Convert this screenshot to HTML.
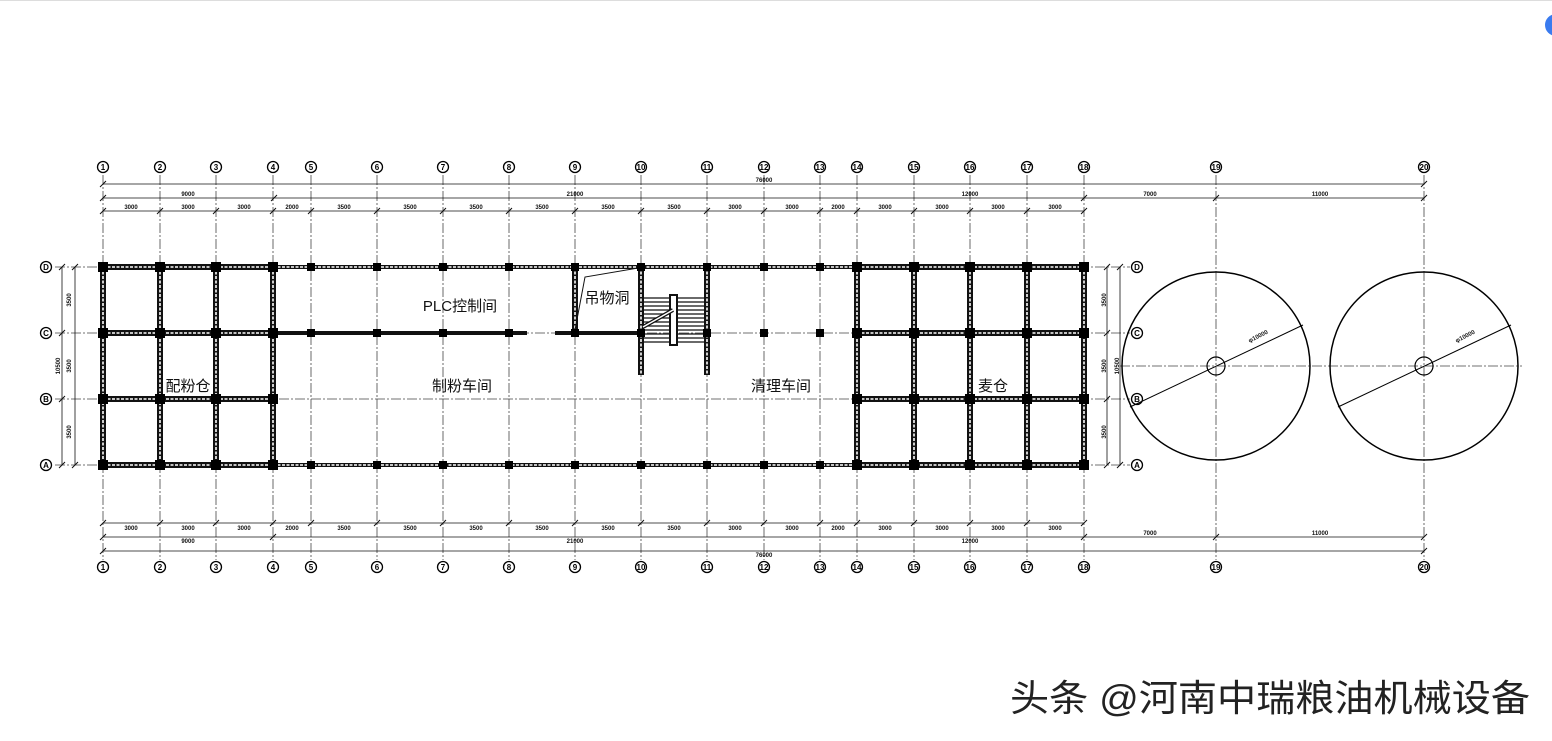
<!DOCTYPE html>
<html><head><meta charset="utf-8"><style>
body{margin:0;background:#fff;}
svg{display:block}
.g{stroke:#444;stroke-width:.8;stroke-dasharray:10 2 2 2;fill:none}
.d{stroke:#111;stroke-width:.8;fill:none}
.t{font:bold 6px "Liberation Sans",sans-serif;fill:#111;text-anchor:middle}
.b{fill:#fff;stroke:#000;stroke-width:1.3}
.bt{font:bold 8px "Liberation Sans",sans-serif;text-anchor:middle;fill:#000}
.hw{stroke:#111;stroke-width:6;fill:none}
.hd{stroke:#fff;stroke-width:1.6;stroke-dasharray:3 1.5;fill:none}
.lab{font:15px "Liberation Sans","Noto Sans CJK SC",sans-serif;fill:#111;text-anchor:middle}
</style></head><body>
<svg width="1552" height="741" viewBox="0 0 1552 741" xmlns="http://www.w3.org/2000/svg">
<line x1="0" y1="0.5" x2="1552" y2="0.5" stroke="#ddd"/>
<circle cx="1556" cy="25" r="11" fill="#3a7bef"/>
<g class="g">
<line x1="103" y1="175" x2="103" y2="560"/><line x1="160" y1="175" x2="160" y2="560"/><line x1="216" y1="175" x2="216" y2="560"/><line x1="273" y1="175" x2="273" y2="560"/><line x1="311" y1="175" x2="311" y2="560"/><line x1="377" y1="175" x2="377" y2="560"/><line x1="443" y1="175" x2="443" y2="560"/><line x1="509" y1="175" x2="509" y2="560"/><line x1="575" y1="175" x2="575" y2="560"/><line x1="641" y1="175" x2="641" y2="560"/><line x1="707" y1="175" x2="707" y2="560"/><line x1="764" y1="175" x2="764" y2="560"/><line x1="820" y1="175" x2="820" y2="560"/><line x1="857" y1="175" x2="857" y2="560"/><line x1="914" y1="175" x2="914" y2="560"/><line x1="970" y1="175" x2="970" y2="560"/><line x1="1027" y1="175" x2="1027" y2="560"/><line x1="1084" y1="175" x2="1084" y2="560"/><line x1="1216" y1="175" x2="1216" y2="560"/><line x1="1424" y1="175" x2="1424" y2="560"/>
<line x1="55" y1="267" x2="1130" y2="267"/><line x1="55" y1="333" x2="1130" y2="333"/><line x1="55" y1="399" x2="1130" y2="399"/><line x1="55" y1="465" x2="1130" y2="465"/>
<line x1="1120" y1="366" x2="1522" y2="366"/>
</g>
<g class="d">
<line x1="103" y1="184" x2="1424" y2="184"/><line x1="103" y1="198" x2="1424" y2="198"/><line x1="103" y1="211" x2="1084" y2="211"/>
<line x1="103" y1="523" x2="1084" y2="523"/><line x1="103" y1="537" x2="1424" y2="537"/><line x1="103" y1="551" x2="1424" y2="551"/>
<line x1="62" y1="267" x2="62" y2="465"/><line x1="75" y1="267" x2="75" y2="465"/>
<line x1="1107" y1="267" x2="1107" y2="465"/><line x1="1120" y1="267" x2="1120" y2="465"/>
</g>
<g stroke="#111" stroke-width="1">
<path d="M100 187l6-6M100 201l6-6M271 201l6-6M1081 201l6-6M1213 201l6-6M1421 201l6-6M1421 187l6-6M100 214l6-6M157 214l6-6M213 214l6-6M270 214l6-6M308 214l6-6M374 214l6-6M440 214l6-6M506 214l6-6M572 214l6-6M638 214l6-6M704 214l6-6M761 214l6-6M817 214l6-6M854 214l6-6M911 214l6-6M967 214l6-6M1024 214l6-6M1081 214l6-6"/>
<path d="M100 526l6-6M157 526l6-6M213 526l6-6M270 526l6-6M308 526l6-6M374 526l6-6M440 526l6-6M506 526l6-6M572 526l6-6M638 526l6-6M704 526l6-6M761 526l6-6M817 526l6-6M854 526l6-6M911 526l6-6M967 526l6-6M1024 526l6-6M1081 526l6-6M100 540l6-6M270 540l6-6M1081 540l6-6M1213 540l6-6M1421 540l6-6M100 554l6-6M1421 554l6-6"/>
<path d="M59 270l6-6M59 336l6-6M59 402l6-6M59 468l6-6M72 270l6-6M72 468l6-6M1104 270l6-6M1104 336l6-6M1104 402l6-6M1104 468l6-6M1117 270l6-6M1117 468l6-6"/>
</g>
<g class="t">
<text x="764" y="182">76000</text><text x="188" y="196">9000</text><text x="575" y="196">21000</text><text x="970" y="196">12000</text><text x="1150" y="196">7000</text><text x="1320" y="196">11000</text>
<text x="131" y="209">3000</text><text x="188" y="209">3000</text><text x="244" y="209">3000</text><text x="292" y="209">2000</text><text x="344" y="209">3500</text><text x="410" y="209">3500</text><text x="476" y="209">3500</text><text x="542" y="209">3500</text><text x="608" y="209">3500</text><text x="674" y="209">3500</text><text x="735" y="209">3000</text><text x="792" y="209">3000</text><text x="838" y="209">2000</text><text x="885" y="209">3000</text><text x="942" y="209">3000</text><text x="998" y="209">3000</text><text x="1055" y="209">3000</text>
<text x="131" y="530">3000</text><text x="188" y="530">3000</text><text x="244" y="530">3000</text><text x="292" y="530">2000</text><text x="344" y="530">3500</text><text x="410" y="530">3500</text><text x="476" y="530">3500</text><text x="542" y="530">3500</text><text x="608" y="530">3500</text><text x="674" y="530">3500</text><text x="735" y="530">3000</text><text x="792" y="530">3000</text><text x="838" y="530">2000</text><text x="885" y="530">3000</text><text x="942" y="530">3000</text><text x="998" y="530">3000</text><text x="1055" y="530">3000</text>
<text x="188" y="543">9000</text><text x="575" y="543">21000</text><text x="970" y="543">12000</text><text x="1150" y="535">7000</text><text x="1320" y="535">11000</text><text x="764" y="557">76000</text>
<text transform="translate(71 300) rotate(-90)">3500</text><text transform="translate(71 366) rotate(-90)">3500</text><text transform="translate(71 432) rotate(-90)">3500</text><text transform="translate(60 366) rotate(-90)">10500</text>
<text transform="translate(1106 300) rotate(-90)">3500</text><text transform="translate(1106 366) rotate(-90)">3500</text><text transform="translate(1106 432) rotate(-90)">3500</text><text transform="translate(1119 366) rotate(-90)">10500</text>
<text transform="translate(1259 338) rotate(-27)">φ10000</text><text transform="translate(1466 338) rotate(-27)">φ10000</text>
</g>
<g>
<g class="b">
<circle cx="103" cy="167" r="5.5"/><circle cx="160" cy="167" r="5.5"/><circle cx="216" cy="167" r="5.5"/><circle cx="273" cy="167" r="5.5"/><circle cx="311" cy="167" r="5.5"/><circle cx="377" cy="167" r="5.5"/><circle cx="443" cy="167" r="5.5"/><circle cx="509" cy="167" r="5.5"/><circle cx="575" cy="167" r="5.5"/><circle cx="641" cy="167" r="5.5"/><circle cx="707" cy="167" r="5.5"/><circle cx="764" cy="167" r="5.5"/><circle cx="820" cy="167" r="5.5"/><circle cx="857" cy="167" r="5.5"/><circle cx="914" cy="167" r="5.5"/><circle cx="970" cy="167" r="5.5"/><circle cx="1027" cy="167" r="5.5"/><circle cx="1084" cy="167" r="5.5"/><circle cx="1216" cy="167" r="5.5"/><circle cx="1424" cy="167" r="5.5"/>
<circle cx="103" cy="567" r="5.5"/><circle cx="160" cy="567" r="5.5"/><circle cx="216" cy="567" r="5.5"/><circle cx="273" cy="567" r="5.5"/><circle cx="311" cy="567" r="5.5"/><circle cx="377" cy="567" r="5.5"/><circle cx="443" cy="567" r="5.5"/><circle cx="509" cy="567" r="5.5"/><circle cx="575" cy="567" r="5.5"/><circle cx="641" cy="567" r="5.5"/><circle cx="707" cy="567" r="5.5"/><circle cx="764" cy="567" r="5.5"/><circle cx="820" cy="567" r="5.5"/><circle cx="857" cy="567" r="5.5"/><circle cx="914" cy="567" r="5.5"/><circle cx="970" cy="567" r="5.5"/><circle cx="1027" cy="567" r="5.5"/><circle cx="1084" cy="567" r="5.5"/><circle cx="1216" cy="567" r="5.5"/><circle cx="1424" cy="567" r="5.5"/>
<circle cx="46" cy="267" r="5.5"/><circle cx="46" cy="333" r="5.5"/><circle cx="46" cy="399" r="5.5"/><circle cx="46" cy="465" r="5.5"/>
<circle cx="1137" cy="267" r="5.5"/><circle cx="1137" cy="333" r="5.5"/><circle cx="1137" cy="399" r="5.5"/><circle cx="1137" cy="465" r="5.5"/>
</g>
<g class="bt">
<text x="103" y="170">1</text><text x="160" y="170">2</text><text x="216" y="170">3</text><text x="273" y="170">4</text><text x="311" y="170">5</text><text x="377" y="170">6</text><text x="443" y="170">7</text><text x="509" y="170">8</text><text x="575" y="170">9</text><text x="641" y="170">10</text><text x="707" y="170">11</text><text x="764" y="170">12</text><text x="820" y="170">13</text><text x="857" y="170">14</text><text x="914" y="170">15</text><text x="970" y="170">16</text><text x="1027" y="170">17</text><text x="1084" y="170">18</text><text x="1216" y="170">19</text><text x="1424" y="170">20</text>
<text x="103" y="570">1</text><text x="160" y="570">2</text><text x="216" y="570">3</text><text x="273" y="570">4</text><text x="311" y="570">5</text><text x="377" y="570">6</text><text x="443" y="570">7</text><text x="509" y="570">8</text><text x="575" y="570">9</text><text x="641" y="570">10</text><text x="707" y="570">11</text><text x="764" y="570">12</text><text x="820" y="570">13</text><text x="857" y="570">14</text><text x="914" y="570">15</text><text x="970" y="570">16</text><text x="1027" y="570">17</text><text x="1084" y="570">18</text><text x="1216" y="570">19</text><text x="1424" y="570">20</text>
<text x="46" y="270">D</text><text x="46" y="336">C</text><text x="46" y="402">B</text><text x="46" y="468">A</text>
<text x="1137" y="270">D</text><text x="1137" y="336">C</text><text x="1137" y="402">B</text><text x="1137" y="468">A</text>
</g>
</g>
<g stroke="#111" stroke-width="4" fill="none">
<line x1="273" y1="267" x2="857" y2="267"/><line x1="273" y1="465" x2="857" y2="465"/>
<line x1="273" y1="333" x2="527" y2="333"/><line x1="555" y1="333" x2="641" y2="333"/>
</g>
<g class="hd" stroke-dasharray="6 4"><line x1="273" y1="267" x2="857" y2="267"/><line x1="273" y1="465" x2="857" y2="465"/></g>
<path class="hw" d="M103 267H273M103 333H273M103 399H273M103 465H273M103 267V465M160 267V465M216 267V465M273 267V465M857 267H1084M857 333H1084M857 399H1084M857 465H1084M857 267V465M914 267V465M970 267V465M1027 267V465M1084 267V465M575 267V333M641 267V375M707 267V375"/>
<path class="hd" d="M103 267H273M103 333H273M103 399H273M103 465H273M103 267V465M160 267V465M216 267V465M273 267V465M857 267H1084M857 333H1084M857 399H1084M857 465H1084M857 267V465M914 267V465M970 267V465M1027 267V465M1084 267V465M575 267V333M641 267V375M707 267V375"/>
<g stroke="#111" stroke-width="1.2">
<path d="M643 298H705M643 302H705M643 306H705M643 310H705M643 314H705M643 318H705M643 322H705M643 326H705M643 330H705M643 334H705M643 338H705M643 342H705"/>
</g>
<rect x="670" y="295" width="7" height="50" fill="#fff" stroke="#111" stroke-width="2"/>
<path d="M643 327L673 310" stroke="#111" stroke-width="4"/><path d="M643 327L673 310" stroke="#fff" stroke-width="1.5"/>
<path d="M575 330L585 277L638 268" stroke="#111" stroke-width="1" fill="none"/>
<g fill="#000">
<path d="M98 262h10v10h-10zM155 262h10v10h-10zM211 262h10v10h-10zM268 262h10v10h-10zM307 263h8v8h-8zM373 263h8v8h-8zM439 263h8v8h-8zM505 263h8v8h-8zM571 263h8v8h-8zM637 263h8v8h-8zM703 263h8v8h-8zM760 263h8v8h-8zM816 263h8v8h-8zM852 262h10v10h-10zM909 262h10v10h-10zM965 262h10v10h-10zM1022 262h10v10h-10zM1079 262h10v10h-10z"/>
<path d="M98 460h10v10h-10zM155 460h10v10h-10zM211 460h10v10h-10zM268 460h10v10h-10zM307 461h8v8h-8zM373 461h8v8h-8zM439 461h8v8h-8zM505 461h8v8h-8zM571 461h8v8h-8zM637 461h8v8h-8zM703 461h8v8h-8zM760 461h8v8h-8zM816 461h8v8h-8zM852 460h10v10h-10zM909 460h10v10h-10zM965 460h10v10h-10zM1022 460h10v10h-10zM1079 460h10v10h-10z"/>
<path d="M98 328h10v10h-10zM155 328h10v10h-10zM211 328h10v10h-10zM268 328h10v10h-10zM307 329h8v8h-8zM373 329h8v8h-8zM439 329h8v8h-8zM505 329h8v8h-8zM571 329h8v8h-8zM637 329h8v8h-8zM703 329h8v8h-8zM760 329h8v8h-8zM816 329h8v8h-8zM852 328h10v10h-10zM909 328h10v10h-10zM965 328h10v10h-10zM1022 328h10v10h-10zM1079 328h10v10h-10z"/>
<path d="M98 394h10v10h-10zM155 394h10v10h-10zM211 394h10v10h-10zM268 394h10v10h-10zM852 394h10v10h-10zM909 394h10v10h-10zM965 394h10v10h-10zM1022 394h10v10h-10zM1079 394h10v10h-10z"/>
</g>
<g fill="none" stroke="#000" stroke-width="1.5">
<circle cx="1216" cy="366" r="94"/><circle cx="1424" cy="366" r="94"/>
<circle cx="1216" cy="366" r="9" stroke-width="1.2"/><circle cx="1424" cy="366" r="9" stroke-width="1.2"/>
</g>
<g stroke="#000" stroke-width="1"><line x1="1130" y1="407" x2="1303" y2="325"/><line x1="1338" y1="407" x2="1511" y2="325"/></g>
<text class="lab" x="460" y="311">PLC控制间</text>
<text class="lab" x="607" y="303">吊物洞</text>
<text class="lab" x="188" y="391">配粉仓</text>
<text class="lab" x="462" y="391">制粉车间</text>
<text class="lab" x="781" y="391">清理车间</text>
<text class="lab" x="993" y="391">麦仓</text>
<text x="1010" y="711" textLength="520" lengthAdjust="spacingAndGlyphs" style="font:37px 'Liberation Sans','Noto Sans CJK SC',sans-serif;fill:#222">头条 @河南中瑞粮油机械设备</text>
</svg>
</body></html>
